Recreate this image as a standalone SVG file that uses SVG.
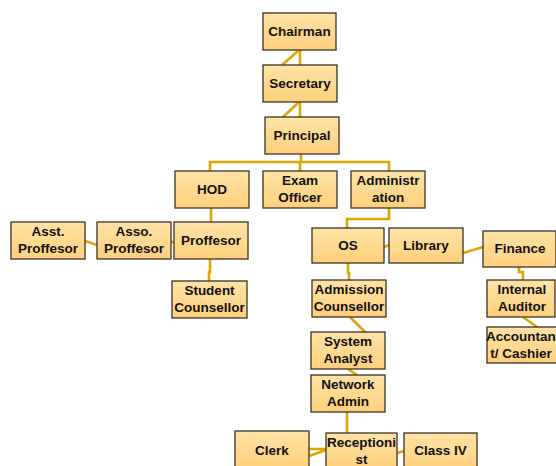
<svg xmlns="http://www.w3.org/2000/svg" width="556" height="466" viewBox="0 0 556 466">
<defs>
<linearGradient id="g" x1="0" y1="0" x2="0" y2="1">
<stop offset="0" stop-color="#FFE3A6"/>
<stop offset="1" stop-color="#FFD07C"/>
</linearGradient>
<style>
.b{fill:url(#g);stroke:#3a3326;stroke-width:1.3}
.t{font-family:"Liberation Sans",Arial,sans-serif;font-weight:bold;font-size:13.5px;fill:#111;text-anchor:middle}
.c{fill:none;stroke:#DDA600;stroke-width:2.6}
</style>
</defs>
<rect width="556" height="466" fill="#fff"/>
<g id="connectors" class="c">
<path d="M300 50V65M298 51L282 65"/>
<path d="M300 102V117M298 103L283 117"/>
<path d="M301 154V162M210 171V162H389V171M300 162V171"/>
<path d="M211 208V222"/>
<path d="M389 208V219H347V228"/>
<path d="M85 241L97 245M171 241L174 243"/>
<path d="M210 259V272H209V281"/>
<path d="M384 247L389 245M463 253L483 247"/>
<path d="M348 263V273H349V280"/>
<path d="M519 267V272H523V280"/>
<path d="M350 317L365 332"/>
<path d="M523 317L537 327"/>
<path d="M348 369L357 375"/>
<path d="M347 412V433"/>
<path d="M309 449H326M309 456L326 450"/>
<path d="M397 453L404 451"/>
</g>
<g id="chairman"><rect class="b" x="263" y="13" width="73" height="37"/><text class="t" x="299.5" y="36">Chairman</text></g>
<g id="secretary"><rect class="b" x="263" y="65" width="74" height="37"/><text class="t" x="300" y="88">Secretary</text></g>
<g id="principal"><rect class="b" x="265" y="117" width="74" height="37"/><text class="t" x="302" y="140">Principal</text></g>
<g id="hod"><rect class="b" x="175" y="171" width="74" height="37"/><text class="t" x="212" y="194">HOD</text></g>
<g id="exam-officer"><rect class="b" x="263" y="171" width="74" height="37"/><text class="t" x="300" y="185">Exam</text><text class="t" x="300" y="202">Officer</text></g>
<g id="administration"><rect class="b" x="351" y="171" width="74" height="37"/><text class="t" x="388" y="185">Administr</text><text class="t" x="388" y="202">ation</text></g>
<g id="asst-proffesor"><rect class="b" x="11" y="222" width="74" height="37"/><text class="t" x="48" y="236">Asst.</text><text class="t" x="48" y="253">Proffesor</text></g>
<g id="asso-proffesor"><rect class="b" x="97" y="222" width="74" height="37"/><text class="t" x="134" y="236">Asso.</text><text class="t" x="134" y="253">Proffesor</text></g>
<g id="proffesor"><rect class="b" x="174" y="222" width="74" height="37"/><text class="t" x="211" y="245">Proffesor</text></g>
<g id="student-counsellor"><rect class="b" x="172" y="281" width="75" height="37"/><text class="t" x="209.5" y="295">Student</text><text class="t" x="209.5" y="312">Counsellor</text></g>
<g id="os"><rect class="b" x="312" y="228" width="72" height="35"/><text class="t" x="348" y="250">OS</text></g>
<g id="library"><rect class="b" x="389" y="228" width="74" height="35"/><text class="t" x="426" y="250">Library</text></g>
<g id="finance"><rect class="b" x="483" y="231" width="73" height="36"/><text class="t" x="520" y="253">Finance</text></g>
<g id="internal-auditor"><rect class="b" x="487" y="280" width="68" height="37"/><text class="t" x="522" y="294">Internal</text><text class="t" x="522" y="311">Auditor</text></g>
<g id="accountant-cashier"><rect class="b" x="487" y="327" width="74" height="36"/><text class="t" x="521" y="341">Accountan</text><text class="t" x="521" y="358">t/ Cashier</text></g>
<g id="admission-counsellor"><rect class="b" x="312" y="280" width="74" height="37"/><text class="t" x="349" y="294">Admission</text><text class="t" x="349" y="311">Counsellor</text></g>
<g id="system-analyst"><rect class="b" x="311" y="332" width="74" height="37"/><text class="t" x="348" y="346">System</text><text class="t" x="348" y="363">Analyst</text></g>
<g id="network-admin"><rect class="b" x="311" y="375" width="74" height="37"/><text class="t" x="348" y="389">Network</text><text class="t" x="348" y="406">Admin</text></g>
<g id="clerk"><rect class="b" x="235" y="431" width="74" height="37"/><text class="t" x="272" y="455">Clerk</text></g>
<g id="receptionist"><rect class="b" x="326" y="433" width="71" height="37"/><text class="t" x="361.5" y="447">Receptioni</text><text class="t" x="361.5" y="464">st</text></g>
<g id="class-iv"><rect class="b" x="404" y="433" width="73" height="37"/><text class="t" x="440.5" y="455">Class IV</text></g>
</svg>
